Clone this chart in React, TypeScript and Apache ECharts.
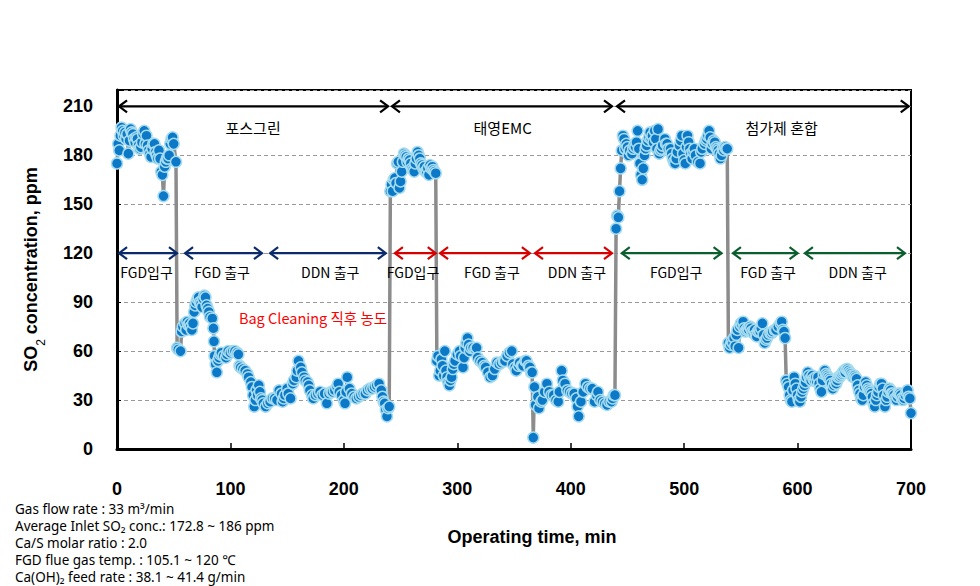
import React, { useEffect, useRef } from "react";
import * as echarts from "echarts";

// ---- measured SO2 concentration [operating time (min), ppm] ----
const posgreenInlet: number[][] = [
  [0, 175], [1, 187], [2, 183], [3, 192], [4, 197], [5, 195], [6, 192], [7, 194], [8, 190], [9, 193],
  [10, 181], [11, 189], [12, 196], [13, 194], [14, 193], [15, 190], [16, 188], [17, 191], [18, 190], [19, 186],
  [20, 184], [21, 185], [22, 188], [23, 193], [24, 195], [25, 187], [26, 192], [27, 186], [28, 183], [29, 181],
  [30, 179], [31, 184], [32, 187], [33, 187], [34, 182], [35, 180], [36, 178], [37, 183], [38, 178], [39, 170],
  [40, 168], [41, 155], [42, 173], [43, 176], [44, 178], [45, 178], [46, 180], [47, 187], [48, 190], [49, 191],
  [50, 187], [52, 176],
];
const posgreenFgdOut: number[][] = [
  [53, 62], [54, 61], [56, 60], [57, 72], [58, 75], [60, 77], [61, 73], [62, 78], [63, 76], [64, 77],
  [65, 75], [66, 73], [67, 77], [68, 84], [69, 88], [70, 90], [71, 92], [72, 93], [73, 90], [74, 89],
  [75, 87], [76, 92], [77, 94], [78, 93], [79, 88], [80, 86], [81, 84], [82, 81], [84, 80], [85, 74],
  [85.5, 66], [86, 57], [87, 52], [88, 47], [89, 54], [90, 56], [91, 58], [92, 59], [94, 57], [96, 56],
  [97, 58], [98, 60], [100, 59], [102, 60], [104, 60], [106, 59], [107, 58], [108, 51], [109, 50], [111, 49],
  [113, 48], [115, 46], [116, 44], [118, 41], [119, 38], [120, 33], [121, 26], [122, 30], [123, 36], [124, 33],
  [125, 39], [126, 35], [127, 31], [128, 30], [129, 28], [131, 26], [133, 28],
];
const posgreenDdnOut: number[][] = [
  [135, 29], [137, 31], [139, 31], [141, 30], [143, 36], [145, 34], [146, 29], [147, 31], [148, 33], [150, 37],
  [151, 34], [153, 31], [155, 40], [156, 42], [158, 44], [159, 48], [160, 54], [162, 50], [163, 47], [165, 44],
  [166, 42], [168, 41], [169, 39], [170, 36], [172, 33], [173, 31], [175, 33], [177, 34], [179, 35], [181, 33],
  [183, 34], [185, 28], [187, 34], [189, 35], [190, 35], [192, 36], [194, 38], [195, 40], [196, 35], [198, 33],
  [200, 30], [201, 28], [202, 35], [203, 44], [205, 37], [207, 34], [209, 32], [211, 31], [213, 32], [215, 33],
  [217, 34], [219, 34], [221, 36], [223, 37], [225, 37], [227, 38], [229, 39], [231, 40], [233, 36], [234, 32],
  [235, 29], [236, 28], [237, 24], [238, 20], [239, 25], [240, 26],
];
const emcInlet: number[][] = [
  [241, 158], [242, 162], [243, 158], [244, 165], [245, 166], [246, 163], [247, 175], [248, 176], [249, 160], [250, 164],
  [251, 170], [252, 176], [253, 181], [254, 180], [255, 179], [256, 176], [257, 178], [258, 177], [259, 175], [260, 172],
  [261, 171], [262, 170], [263, 175], [264, 178], [265, 182], [266, 180], [267, 178], [268, 175], [269, 174], [270, 172],
  [271, 173], [272, 170], [273, 170], [274, 172], [275, 168], [276, 174], [277, 172], [278, 173], [279, 171], [280, 170],
  [281, 169],
];
const emcFgdOut: number[][] = [
  [282, 54], [283, 57], [284, 45], [285, 48], [286, 55], [287, 51], [288, 45], [289, 60], [290, 48], [291, 44],
  [292, 41], [293, 39], [294, 42], [295, 44], [296, 49], [297, 52], [298, 54], [300, 58], [302, 60], [303, 57],
  [305, 50], [306, 56], [307, 62], [308, 65], [309, 68], [310, 64], [311, 60], [312, 62], [314, 62], [316, 61],
  [317, 62], [318, 56], [320, 54], [322, 53], [324, 51], [325, 50], [327, 47], [329, 44], [331, 45], [333, 49],
  [335, 53], [337, 52], [339, 53], [341, 54], [342, 54], [344, 57], [346, 59], [348, 60], [349, 52], [351, 50],
  [352, 48], [354, 51], [355, 53], [357, 51], [358, 51], [360, 54], [361, 54], [363, 51], [364, 50], [365, 47],
  [366, 47],
];
const emcDdnOut: number[][] = [
  [367, 7], [368, 38], [369, 27], [371, 32], [372, 25], [374, 29], [375, 30], [377, 35], [379, 40], [381, 35],
  [383, 33], [385, 33], [387, 30], [389, 29], [390, 35], [392, 48], [393, 42], [395, 40], [397, 36], [399, 35],
  [401, 34], [403, 34], [405, 31], [406, 26], [407, 20], [409, 29], [411, 35], [413, 40], [415, 38], [417, 37],
  [419, 37], [421, 29], [423, 33], [424, 35], [426, 30], [428, 29], [430, 28], [432, 27], [434, 29], [436, 29],
  [437, 31], [438, 33], [439, 33],
];
const additiveInlet: number[][] = [
  [440, 135], [441, 143], [442, 142], [443, 158], [444, 172], [445, 183], [446, 192], [447, 190], [448, 184], [449, 187],
  [450, 185], [451, 180], [452, 183], [454, 181], [455, 184], [456, 186], [457, 185], [458, 188], [459, 195], [460, 184],
  [461, 175], [462, 168], [463, 165], [464, 172], [465, 180], [466, 184], [467, 186], [468, 189], [469, 191], [470, 194],
  [471, 190], [472, 192], [473, 188], [474, 195], [475, 190], [476, 184], [477, 196], [478, 181], [479, 183], [480, 184],
  [481, 186], [483, 190], [484, 187], [485, 187], [486, 184], [488, 184], [489, 181], [490, 178], [491, 176], [492, 175],
  [493, 178], [494, 182], [496, 186], [497, 189], [498, 192], [499, 181], [500, 177], [501, 175], [502, 185], [503, 192],
  [504, 188], [505, 184], [506, 181], [507, 178], [508, 182], [509, 184], [510, 180], [512, 176], [514, 175], [515, 182],
  [516, 184], [518, 187], [519, 189], [520, 190], [521, 192], [522, 195], [523, 191], [524, 184], [525, 187], [526, 189],
  [527, 188], [528, 185], [529, 184], [530, 183], [531, 181], [532, 178], [533, 180], [534, 184], [535, 183], [536, 185],
  [537, 184], [538, 184],
];
const additiveFgdOut: number[][] = [
  [539, 65], [540, 62], [541, 64], [542, 66], [543, 65], [544, 68], [545, 63], [546, 70], [547, 73], [548, 62],
  [549, 75], [550, 77], [551, 76], [552, 78], [553, 74], [554, 72], [555, 73], [556, 74], [557, 73], [558, 75],
  [559, 74], [560, 72], [561, 71], [562, 73], [563, 70], [564, 69], [565, 72], [566, 73], [567, 72], [568, 74],
  [569, 77], [570, 70], [571, 65], [572, 67], [573, 68], [574, 70], [576, 71], [577, 71], [578, 72], [580, 73],
  [581, 73], [583, 75], [585, 77], [586, 78], [587, 73], [588, 72], [589, 68],
];
const additiveDdnOut: number[][] = [
  [590, 42], [591, 40], [592, 38], [593, 33], [594, 30], [595, 29], [596, 36], [597, 44], [598, 40], [599, 37],
  [600, 33], [601, 30], [602, 29], [603, 32], [604, 35], [605, 37], [606, 39], [607, 41], [608, 44], [609, 47],
  [610, 45], [611, 43], [612, 42], [613, 45], [614, 43], [615, 42], [616, 44], [617, 41], [618, 44], [619, 40],
  [620, 37], [621, 35], [622, 42], [623, 46], [624, 48], [625, 46], [626, 45], [627, 44], [628, 43], [629, 42],
  [630, 40], [631, 37], [632, 39], [633, 41], [634, 40], [635, 42], [636, 44], [637, 44], [638, 45], [639, 46],
  [640, 47], [641, 48], [642, 47], [643, 49], [644, 49], [645, 48], [646, 47], [647, 46], [648, 45], [649, 44],
  [650, 45], [651, 44], [652, 43], [653, 39], [654, 36], [655, 34], [656, 31], [657, 30], [658, 33], [659, 38],
  [660, 41], [661, 39], [662, 37], [663, 36], [664, 35], [665, 34], [666, 32], [667, 28], [668, 26], [669, 30],
  [670, 33], [671, 35], [672, 38], [673, 40], [674, 40], [675, 37], [676, 33], [677, 26], [678, 30], [679, 32],
  [680, 35], [681, 37], [682, 36], [683, 34], [684, 34], [685, 33], [686, 31], [687, 30], [688, 32], [689, 34],
  [690, 34], [691, 33], [692, 31], [693, 30], [694, 31], [695, 33], [696, 35], [697, 36], [698, 32], [699, 31],
  [700, 22],
];

// ---- axis ticks ----
const xTicks = [0, 100, 200, 300, 400, 500, 600, 700];
const yTicks = [0, 30, 60, 90, 120, 150, 180, 210];

// ---- annotation arrows ----
const topArrowFrom = [1.8, 242.4, 440.8];
const topArrowTo = [239, 436.4, 698];
const topArrowLevel = 210;
const topLabels = ["포스그린", "태영EMC", "첨가제 혼합"];
const topLabelAt = [120, 340, 586];
const topLabelLevel = 197;

const midArrowFrom = [1.8, 60, 135, 245, 284.8, 368.5, 445, 543, 606.5];
const midArrowTo = [52.9, 127.8, 237, 281, 364, 436.4, 533, 600, 694.7];
const midArrowLevel = 120;
const midLabels = ["FGD입구", "FGD 출구", "DDN 출구", "FGD입구", "FGD 출구", "DDN 출구", "FGD입구", "FGD 출구", "DDN 출구"];
const midLabelAt = [26, 92.6, 188, 261, 330.6, 405.5, 493, 574, 653];
const midLabelLevel = 108.5;
const midGroup = [0, 0, 0, 1, 1, 1, 2, 2, 2];
const groupColors = ["#0A2A6B", "#D60000", "#0B5E2E"];

const noteText = "Bag Cleaning 직후 농도";
const noteAt = [172.8, 80.5];

const infoLines = [
  "Gas flow rate : 33 m³/min",
  "Average Inlet SO₂ conc.: 172.8 ~ 186 ppm",
  "Ca/S molar ratio : 2.0",
  "FGD flue gas temp. : 105.1 ~ 120 ℃",
  "Ca(OH)₂ feed rate : 38.1 ~ 41.4 g/min",
];

type Ann = {
  from: number; to: number; level: number; label: string; labelAt: number; labelLevel: number;
  color: string; fontSize: number;
};

export default function App() {
  const ref = useRef<HTMLDivElement>(null);
  useEffect(() => {
    const chart = echarts.init(ref.current!, null, { renderer: "svg" });

    const series = [
      ...posgreenInlet, ...posgreenFgdOut, ...posgreenDdnOut,
      ...emcInlet, ...emcFgdOut, ...emcDdnOut,
      ...additiveInlet, ...additiveFgdOut, ...additiveDdnOut,
    ];

    const anns: Ann[] = [];
    topArrowFrom.forEach((f, i) =>
      anns.push({ from: f, to: topArrowTo[i], level: topArrowLevel, label: topLabels[i], labelAt: topLabelAt[i], labelLevel: topLabelLevel, color: "#000", fontSize: 15 })
    );
    midArrowFrom.forEach((f, i) =>
      anns.push({ from: f, to: midArrowTo[i], level: midArrowLevel, label: midLabels[i], labelAt: midLabelAt[i], labelLevel: midLabelLevel, color: groupColors[midGroup[i]], fontSize: 14 })
    );

    const renderArrow = (params: any, api: any) => {
      const a = anns[params.dataIndex];
      const p1 = api.coord([a.from, a.level]);
      const p2 = api.coord([a.to, a.level]);
      const lp = api.coord([a.labelAt, a.labelLevel]);
      const w = 8, h = 6;
      const st = { stroke: a.color, lineWidth: 2.2, fill: "none" };
      return {
        type: "group",
        children: [
          { type: "line", shape: { x1: p1[0], y1: p1[1], x2: p2[0], y2: p2[1] }, style: st },
          { type: "polyline", shape: { points: [[p1[0] + w, p1[1] - h], [p1[0], p1[1]], [p1[0] + w, p1[1] + h]] }, style: st },
          { type: "polyline", shape: { points: [[p2[0] - w, p2[1] - h], [p2[0], p2[1]], [p2[0] - w, p2[1] + h]] }, style: st },
          {
            type: "text", x: lp[0], y: lp[1],
            style: { text: a.label, fill: "#000", font: `${a.fontSize}px "Noto Sans CJK KR", sans-serif`, align: "center", verticalAlign: "middle" },
          },
        ],
      };
    };

    const boldFont = { fontFamily: '"Liberation Sans", Arial, sans-serif', fontWeight: "bold" as const, fontSize: 18, color: "#000" };

    chart.setOption({
      animation: false,
      backgroundColor: "#fff",
      grid: { left: 117, right: 69, top: 90, bottom: 137, show: true, borderColor: "#000", borderWidth: 2, backgroundColor: "transparent" },
      xAxis: {
        type: "value", min: xTicks[0], max: xTicks[xTicks.length - 1], interval: 100,
        axisLine: { lineStyle: { color: "#000", width: 3 } },
        axisTick: { inside: true, length: 6, lineStyle: { color: "#000", width: 1.5 } },
        axisLabel: { ...boldFont, margin: 31, lineHeight: 18 },
        splitLine: { show: false },
        name: "Operating time, min", nameLocation: "middle", nameGap: 79,
        nameTextStyle: { ...boldFont, padding: [0, 0, 0, 36] },
      },
      yAxis: {
        type: "value", min: yTicks[0], max: 220, interval: 30,
        axisLine: { lineStyle: { color: "#000", width: 3 } },
        axisTick: { inside: true, length: 4, lineStyle: { color: "#000", width: 1 } },
        axisLabel: { ...boldFont, margin: 24, formatter: (v: number) => (yTicks.includes(v) ? String(v) : "") },
        splitLine: { show: true, lineStyle: { color: "#999", type: [4, 3], width: 1 } },
        name: "{a|SO}{s|2}{a| concentration, ppm}", nameLocation: "middle", nameGap: 74, nameRotate: 90,
        nameTextStyle: {
          rich: {
            a: { fontFamily: '"Liberation Sans", Arial, sans-serif', fontWeight: "bold", fontSize: 18, color: "#000", lineHeight: 24 },
            s: { fontFamily: '"Liberation Sans", Arial, sans-serif', fontSize: 12, color: "#000", verticalAlign: "bottom", lineHeight: 24, padding: [0, 0, -4, 0] },
          },
        },
      },
      series: [
        {
          type: "line", data: series, symbol: "circle", symbolSize: 11, showAllSymbol: true,
          lineStyle: { color: "#8C8C8C", width: 3.5 },
          itemStyle: { color: "#0B78C8", borderColor: "#A6DCEF", borderWidth: 1.5 },
          z: 2,
        },
        {
          type: "custom", renderItem: renderArrow, clip: false, z: 3,
          data: anns.map((a) => [a.from, a.level]),
        },
        {
          type: "custom", clip: false, z: 4,
          data: [noteAt],
          renderItem: (_p: any, api: any) => {
            const p = api.coord([api.value(0), api.value(1)]);
            return {
              type: "text", x: p[0], y: p[1],
              style: { text: noteText, fill: "#FF0000", font: '14.5px "Noto Sans CJK KR", sans-serif', align: "center", verticalAlign: "middle" },
            };
          },
        },
      ],
      graphic: infoLines.map((t, i) => ({
        type: "text", left: 15, top: 501 + i * 17.1,
        style: { text: t, fill: "#000", font: '13.5px "Noto Sans", "Noto Sans CJK KR", sans-serif', lineHeight: 16 },
      })),
    });
    return () => chart.dispose();
  }, []);
  return <div ref={ref} style={{ position: "fixed", left: 0, top: 0, width: 980, height: 586, background: "#fff" }} />;
}
